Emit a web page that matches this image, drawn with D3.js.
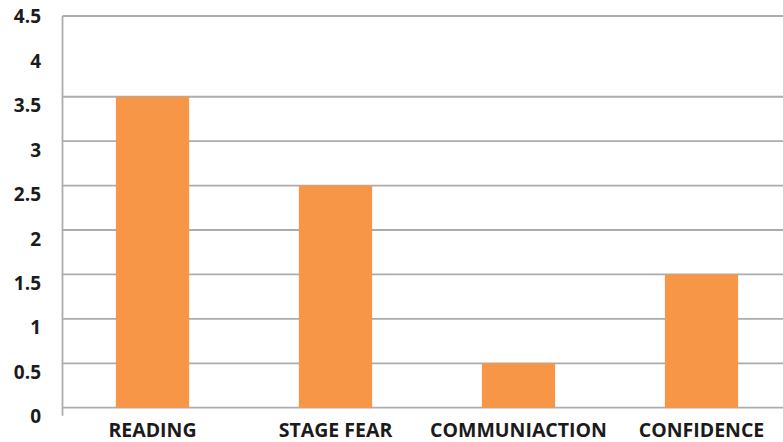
<!DOCTYPE html>
<html>
<head>
<meta charset="utf-8">
<script src="https://cdn.jsdelivr.net/npm/d3@7"></script>
<style>
  html, body { margin: 0; padding: 0; background: #ffffff; }
  svg { display: block; }
  text { font-family: "Open Sans", "DejaVu Sans", sans-serif; font-weight: 700; fill: #1b1b1b; }
</style>
</head>
<body>
<svg id="chart" width="783" height="442"></svg>
<script>
// Survey scores per skill area
const categories = ["READING", "STAGE FEAR", "COMMUNIACTION", "CONFIDENCE"];
const values = [3.5, 2.5, 0.5, 1.5];
const yTicks = [0, 0.5, 1, 1.5, 2, 2.5, 3, 3.5, 4, 4.5];
const yTickLabels = ["0", "0.5", "1", "1.5", "2", "2.5", "3", "3.5", "4", "4.5"];
const gridValues = [0, 0.5, 1, 1.5, 2, 2.5, 3, 3.5];

const W = 783, H = 442;
const axisX = 62.5;     // left value axis
const plotTop = 16;     // top edge of the plot frame
const svg = d3.select("#chart");

const x = d3.scaleBand()
  .domain(categories)
  .range([61, 793])
  .paddingInner(0)
  .paddingOuter(0);

const y = d3.scaleLinear()
  .domain([0, 4.5])
  .range([407.7, 7.9]);

const barW = x.bandwidth() * 0.4;

// horizontal gridlines
svg.append("g")
  .selectAll("line")
  .data(gridValues)
  .join("line")
  .attr("x1", axisX)
  .attr("x2", W)
  .attr("y1", d => y(d))
  .attr("y2", d => y(d))
  .attr("stroke", "#acacac")
  .attr("stroke-width", 1.8);

// top frame line
svg.append("line")
  .attr("x1", axisX).attr("x2", W)
  .attr("y1", plotTop).attr("y2", plotTop)
  .attr("stroke", "#acacac")
  .attr("stroke-width", 1.8);

// bars
svg.append("g")
  .selectAll("rect")
  .data(categories.map((c, i) => ({ c, v: values[i] })))
  .join("rect")
  .attr("x", d => x(d.c) + (x.bandwidth() - barW) / 2)
  .attr("width", barW)
  .attr("y", d => y(d.v))
  .attr("height", d => y(0) - y(d.v))
  .attr("fill", "#f79646");

// left axis line
svg.append("line")
  .attr("x1", axisX).attr("x2", axisX)
  .attr("y1", plotTop).attr("y2", y(0) + 8)
  .attr("stroke", "#acacac")
  .attr("stroke-width", 1.8);

// y tick labels
svg.append("g")
  .selectAll("text")
  .data(yTicks)
  .join("text")
  .attr("x", 41)
  .attr("y", d => y(d) + 8.5)
  .attr("text-anchor", "end")
  .attr("dominant-baseline", "central")
  .attr("font-size", 19)
  .text((d, i) => yTickLabels[i]);

// category labels
svg.append("g")
  .selectAll("text")
  .data(categories)
  .join("text")
  .attr("x", d => x(d) + x.bandwidth() / 2)
  .attr("y", y(0) + 29)
  .attr("text-anchor", "middle")
  .attr("font-size", 19.5)
  .text(d => d);
</script>
</body>
</html>
